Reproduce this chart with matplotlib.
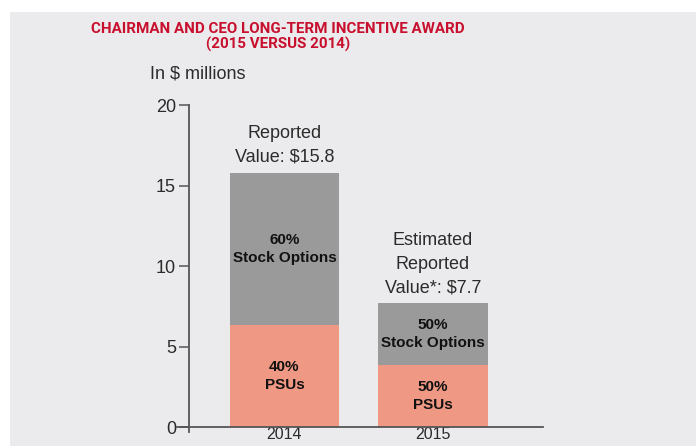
import matplotlib.pyplot as plt
from matplotlib.patches import Rectangle

years = ['2014', '2015']
totals = [15.8, 7.7]
psu_share = [0.40, 0.50]
option_share = [0.60, 0.50]
top_labels = ['Reported\nValue: $15.8', 'Estimated\nReported\nValue*: $7.7']
psu_labels = ['40%\nPSUs', '50%\nPSUs']
option_labels = ['60%\nStock Options', '50%\nStock Options']

bg = '#ebebed'
red = '#c8102e'
grey_bar = '#9a9a9a'
salmon = '#ef9883'
text_col = '#2b2b2b'

plt.rcParams['font.family'] = ['Liberation Sans', 'DejaVu Sans']

fig = plt.figure(figsize=(6.96, 4.46), dpi=100)
fig.patch.set_facecolor('white')
# grey panel (white strip top/left like the screenshot)
fig.patches.append(Rectangle((10 / 696, 0), 1, 1 - 12 / 446, transform=fig.transFigure,
                             facecolor=bg, edgecolor='none', zorder=-10))

ax = fig.add_axes([177 / 696, 14 / 446, (543 - 177) / 696, (432 - 105) / 446])
ax.set_facecolor('none')

x = range(len(years))
psu = [t * s for t, s in zip(totals, psu_share)]
opt = [t * s for t, s in zip(totals, option_share)]
w = 0.735
ax.bar(x, psu, width=w, color=salmon, zorder=2)
ax.bar(x, opt, width=w, bottom=psu, color=grey_bar, zorder=2)

for i in x:
    ax.text(i, psu[i] / 2, psu_labels[i], ha='center', va='center', fontsize=11,
            fontweight='bold', color='#111111', linespacing=1.3)
    ax.text(i, psu[i] + opt[i] / 2, option_labels[i], ha='center', va='center', fontsize=11,
            fontweight='bold', color='#111111', linespacing=1.3)
    ax.annotate(top_labels[i], (i, totals[i]), xytext=(0, 5), textcoords='offset points',
                ha='center', va='bottom', fontsize=13, color=text_col, linespacing=1.5)

ax.set_xlim(-0.724, 1.741)
ax.set_ylim(-0.31, 20)
ax.spines['top'].set_visible(False)
ax.spines['right'].set_visible(False)
ax.spines['left'].set_position(('data', -0.643))
ax.spines['bottom'].set_position(('data', 0))
for s in ['left', 'bottom']:
    ax.spines[s].set_color('#555555')
    ax.spines[s].set_linewidth(1.3)

ax.set_yticks([0, 5, 10, 15, 20])
ax.set_xticks(list(x))
ax.set_xticklabels(years)
ax.tick_params(axis='y', length=7.3, width=1.1, color='#555555', labelsize=13,
               labelcolor=text_col, pad=2)
ax.tick_params(axis='x', length=0, labelsize=11.5, labelcolor=text_col, pad=0)

fig.text(278 / 696, 1 - 37 / 446, 'CHAIRMAN AND CEO LONG-TERM INCENTIVE AWARD\n(2015 VERSUS 2014)',
         ha='center', va='center', fontsize=10.9, fontweight='bold', color=red,
         family=['Roboto', 'Liberation Sans'], linespacing=1.12)
fig.text(150 / 696, 1 - 74 / 446, 'In $ millions', ha='left', va='center', fontsize=13,
         color=text_col)

fig.savefig('out.png', dpi=100)
